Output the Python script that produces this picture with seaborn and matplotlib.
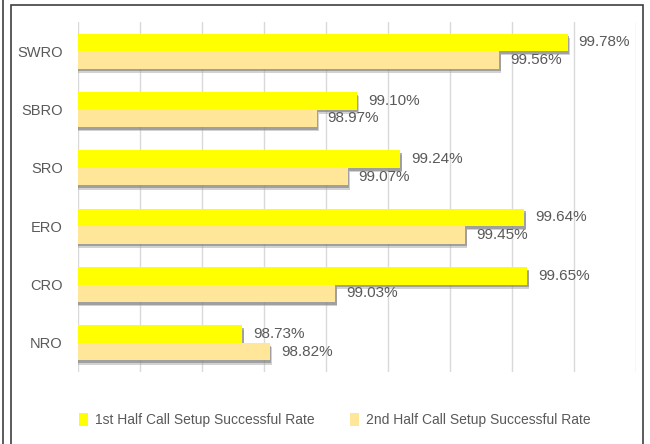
import numpy as np
import pandas as pd
import matplotlib
matplotlib.use("Agg")
import matplotlib.pyplot as plt
import matplotlib.patheffects as pe
from matplotlib.lines import Line2D
from matplotlib.patches import Rectangle
import seaborn as sns

# Data
regions = ["SWRO", "SBRO", "SRO", "ERO", "CRO", "NRO"]
first_half = [99.78, 99.10, 99.24, 99.64, 99.65, 98.73]
second_half = [99.56, 98.97, 99.07, 99.45, 99.03, 98.82]
series_names = ["1st Half Call Setup Successful Rate", "2nd Half Call Setup Successful Rate"]
colors = ["#FFFF00", "#FFE699"]

df = pd.DataFrame({
    "Region": regions * 2,
    "Rate": first_half + second_half,
    "Series": [series_names[0]] * len(regions) + [series_names[1]] * len(regions),
})

sns.set_style("white")
plt.rcParams["font.family"] = ["Liberation Sans", "DejaVu Sans"]
text_color = "#595959"

fig = plt.figure(figsize=(6.5, 4.44), dpi=100)
ax = fig.add_axes([0.12, 0.162, 0.858, 0.7885])

sns.barplot(data=df, y="Region", x="Rate", hue="Series", palette=colors,
            width=0.6, orient="h", ax=ax, legend=False, saturation=1)

ax.set_xlim(98.2, 100.0)
ax.set_ylim(5.5, -0.5)
ax.set_xticks(np.arange(98.2, 100.01, 0.2))
ax.set_xticklabels([])
ax.grid(axis="x", color="#d9d9d9", linewidth=1)
ax.grid(axis="y", visible=False)
ax.set_axisbelow(True)
for s in ax.spines.values():
    s.set_visible(False)
ax.set_xlabel("")
ax.set_ylabel("")
ax.tick_params(axis="both", length=0)
ax.tick_params(axis="y", pad=11, labelsize=10.5, labelcolor=text_color)

# Soft shadow under the bars and value labels
for cont in ax.containers:
    for bar in cont:
        bar.set_edgecolor("none")
        bar.set_path_effects([
            pe.withSimplePatchShadow(offset=(1.5, -3.0), shadow_rgbFace="#a6a6a6", alpha=0.5),
            pe.withSimplePatchShadow(offset=(1.0, -2.0), shadow_rgbFace="#7f7f7f", alpha=0.6),
            pe.Normal()])
    vals = cont.datavalues
    ax.bar_label(cont, labels=[f"{v:.2f}%" for v in vals], padding=8,
                 fontsize=11, color=text_color)

# Legend at the bottom
handles = [Rectangle((0, 0), 1, 1, facecolor=c, edgecolor="none") for c in colors]
fig.legend(handles, series_names, loc="center", bbox_to_anchor=(0.515, 1 - 420 / 444),
           ncol=2, frameon=False, handlelength=0.6, handleheight=1.1, handletextpad=0.5,
           columnspacing=2.6, fontsize=10, labelcolor=text_color)

# Outer frame lines
fig.add_artist(Line2D([2.7 / 650, 2.7 / 650], [0, 1], color="#404040", linewidth=1.2))
fig.add_artist(Rectangle((11 / 650, -0.05), (643 - 11) / 650, 1.05 - 5 / 444,
                         fill=False, edgecolor="#404040", linewidth=1.2))

fig.savefig("out.png", dpi=100)
